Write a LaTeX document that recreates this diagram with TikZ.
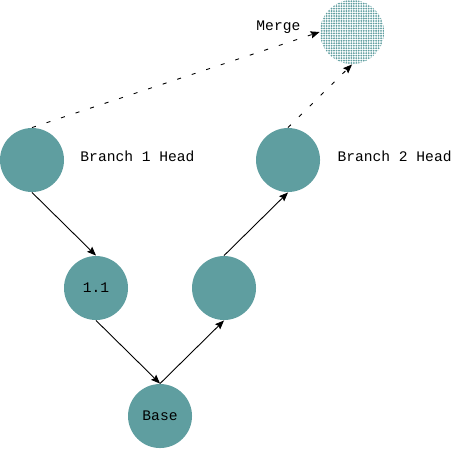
\documentclass[tikz,border=0pt]{standalone}
\usepackage{fontspec}
\setmonofont{Liberation Mono}
\usepackage{tikz}
\usetikzlibrary{arrows.meta, positioning, patterns.meta}
\definecolor{NodeTeal}{HTML}{5F9EA0}
\tikzset{
  commitnode/.style={circle, fill=NodeTeal, minimum size=1cm, inner sep=0pt, font=\ttfamily\fontsize{6.5}{8}\selectfont},
  mergenode/.style={circle, pattern={Dots[distance=1.1pt, radius=0.45pt]}, pattern color=NodeTeal, minimum size=1cm, inner sep=0pt},
  headlabel/.style={anchor=west, inner sep=0pt, font=\ttfamily\fontsize{6.5}{8}\selectfont},
  arrow/.style={-{Stealth[length=4pt, width=3.2pt, inset=0.6pt]}, thin, black},
  dashedarrow/.style={-{Stealth[length=4pt, width=3.2pt, inset=0.6pt]}, thin, black, dash pattern=on 1.8pt off 5pt}
}
\begin{document}
\begin{tikzpicture}
  \useasboundingbox (0,0) rectangle (7.109,7.016);

  % Commits
  \node[commitnode] (base) at (2.5,0.516) {Base};
  \node[commitnode] (c11) at (1.5,2.516) {1.1};
  \node[commitnode] (c21) at (3.5,2.516) {};
  \node[commitnode] (head1) at (0.5,4.516) {};
  \node[commitnode] (head2) at (4.5,4.516) {};
  \node[mergenode] (merge) at (5.5,6.516) {};

  % Labels
  \node[headlabel] (lhead1) at (1.25,4.578) {Branch 1 Head};
  \node[headlabel] (lhead2) at (5.266,4.578) {Branch 2 Head};
  \node[headlabel] (lmerge) at (4.0,6.59) {Merge};

  % History
  \draw[arrow] (head1.south) -- (c11.north);
  \draw[arrow] (c11.south) -- (base.north);
  \draw[arrow] (base.north) -- (c21.south);
  \draw[arrow] (c21.north) -- (head2.south);

  % Pending merge
  \draw[dashedarrow] (head1.north) -- (merge.west);
  \draw[dashedarrow] (head2.north) -- (merge.south);
\end{tikzpicture}
\end{document}
